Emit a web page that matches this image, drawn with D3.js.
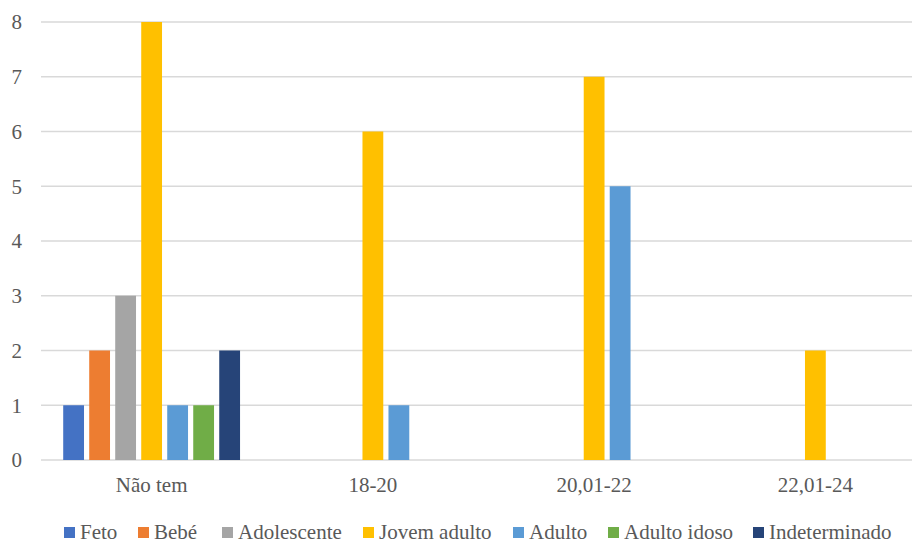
<!DOCTYPE html>
<html>
<head>
<meta charset="utf-8">
<script src="https://cdn.jsdelivr.net/npm/d3@7/dist/d3.min.js"></script>
<style>
  html, body { margin: 0; padding: 0; background: #fff; }
  svg { display: block; }
</style>
</head>
<body>
<svg id="chart" width="912" height="542"></svg>
<script>
// Age-at-death class counts per category
const categories = ["Não tem", "18-20", "20,01-22", "22,01-24"];
const seriesNames = ["Feto", "Bebé", "Adolescente", "Jovem adulto", "Adulto", "Adulto idoso", "Indeterminado"];
const seriesColors = ["#4472C4", "#ED7D31", "#A5A5A5", "#FFC000", "#5B9BD5", "#70AD47", "#264478"];
const feto         = [1, 0, 0, 0];
const bebe         = [2, 0, 0, 0];
const adolescente  = [3, 0, 0, 0];
const jovemAdulto  = [8, 6, 7, 2];
const adulto       = [1, 1, 5, 0];
const adultoIdoso  = [1, 0, 0, 0];
const indeterminado= [2, 0, 0, 0];
const yTicks = [0, 1, 2, 3, 4, 5, 6, 7, 8];

const seriesValues = [feto, bebe, adolescente, jovemAdulto, adulto, adultoIdoso, indeterminado];

const svg = d3.select("#chart");
const W = 912, H = 542;
const plot = { left: 41, right: 926, top: 22, bottom: 460 };
const FONT = '"Liberation Serif"';
const FONT_SIZE = "21px";
const textColor = "#595959";

const x0 = d3.scaleBand().domain(categories).range([plot.left, plot.right]).padding(0);
const x1 = d3.scaleBand().domain(seriesNames).range([0, x0.bandwidth()])
  .paddingInner(0.2).paddingOuter(0.854);
const y = d3.scaleLinear().domain([0, 8]).range([plot.bottom, plot.top]);

function styleText(sel) {
  sel.style("font-family", FONT).style("font-size", FONT_SIZE).attr("fill", textColor);
}

// Horizontal gridlines
svg.append("g")
  .selectAll("line")
  .data(yTicks)
  .join("line")
  .attr("x1", plot.left)
  .attr("x2", W)
  .attr("y1", d => y(d))
  .attr("y2", d => y(d))
  .attr("stroke", "#d9d9d9")
  .attr("stroke-width", 1.5);

// Y axis labels
const yAxis = d3.axisLeft(y).tickValues(yTicks).tickSize(0).tickPadding(0).tickFormat(d3.format("d"));
const yg = svg.append("g").attr("transform", "translate(22,0)").call(yAxis);
yg.select(".domain").remove();
yg.selectAll("text").call(styleText).attr("dy", "0.33em");

// Bars
const groups = svg.append("g")
  .selectAll("g")
  .data(categories)
  .join("g")
  .attr("transform", d => `translate(${x0(d)},0)`);

groups.selectAll("rect")
  .data((c, ci) => seriesNames.map((s, si) => ({ s, si, v: seriesValues[si][ci] })).filter(d => d.v > 0))
  .join("rect")
  .attr("x", d => x1(d.s))
  .attr("width", x1.bandwidth())
  .attr("y", d => y(d.v))
  .attr("height", d => y(0) - y(d.v))
  .attr("fill", d => seriesColors[d.si]);

// Category axis labels
const xAxis = d3.axisBottom(x0).tickSize(0).tickPadding(0);
const xg = svg.append("g").attr("transform", `translate(0,${plot.bottom + 25})`).call(xAxis);
xg.select(".domain").remove();
xg.selectAll("text").call(styleText).attr("dy", "0.35em");

// Legend
const legendX = [64, 138, 222, 363, 513, 608, 753];
const legend = svg.append("g").attr("transform", "translate(0,532)");
const items = legend.selectAll("g")
  .data(seriesNames)
  .join("g")
  .attr("transform", (d, i) => `translate(${legendX[i]},0)`);
items.append("rect")
  .attr("x", 0).attr("y", -5).attr("width", 11).attr("height", 11)
  .attr("fill", (d, i) => seriesColors[i]);
items.append("text")
  .attr("x", 16).attr("y", 0).attr("dy", "0.35em")
  .call(styleText)
  .text(d => d);
</script>
</body>
</html>
